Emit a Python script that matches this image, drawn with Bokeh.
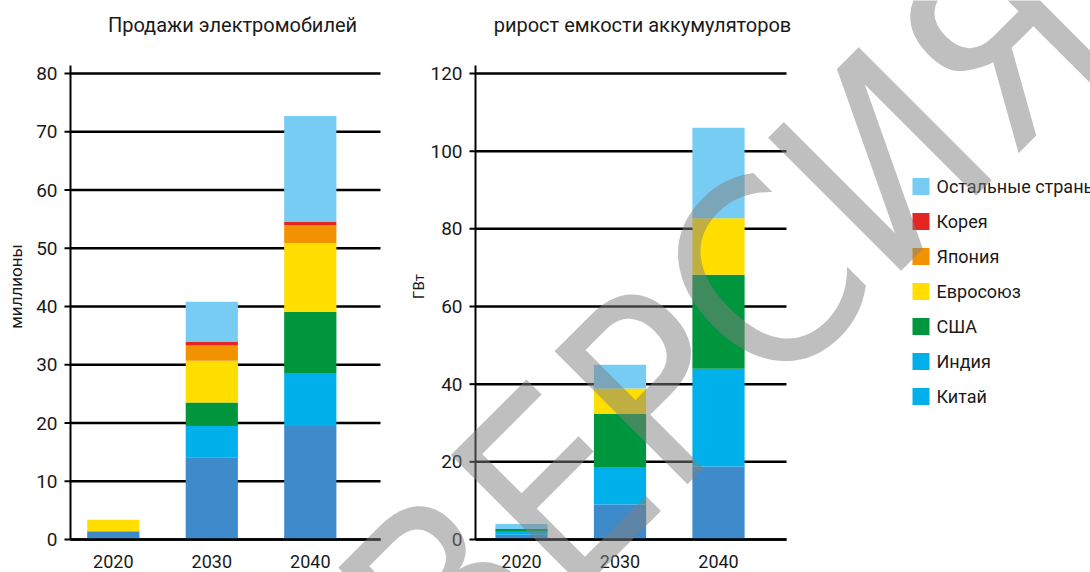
import math

from bokeh.core.properties import value
from bokeh.embed import file_html
from bokeh.models import ColumnDataSource, Range1d
from bokeh.plotting import figure
from bokeh.resources import INLINE

# ---------------------------------------------------------------- data
years = [2020, 2030, 2040]
year_labels = ["2020", "2030", "2040"]
regions = ["Китай", "Индия", "США", "Евросоюз", "Япония", "Корея", "Остальные страны"]
bar_colors = ["#3D8BCB", "#00B0EA", "#00963D", "#FFDE00", "#F39200", "#E42522", "#77CCF4"]

# legend entries, top to bottom, with their swatch colours
legend_labels = ["Остальные страны", "Корея", "Япония", "Евросоюз", "США", "Индия", "Китай"]
legend_colors = ["#77CCF4", "#E42522", "#F39200", "#FFDE00", "#00963D", "#00B0EA", "#00B0EA"]

# electric vehicle sales, millions
ev_china = [1.4, 14.1, 19.5]
ev_india = [0.0, 5.4, 9.1]
ev_usa = [0.0, 4.0, 10.5]
ev_eu = [2.0, 7.2, 11.8]
ev_japan = [0.0, 2.6, 3.1]
ev_korea = [0.0, 0.6, 0.5]
ev_rest = [0.0, 6.9, 18.2]

# battery capacity growth, GW
bat_china = [1.2, 9.0, 18.8]
bat_india = [0.8, 9.5, 25.2]
bat_usa = [0.7, 13.9, 24.2]
bat_eu = [0.0, 6.5, 14.5]
bat_japan = [0.0, 0.0, 0.0]
bat_korea = [0.0, 0.0, 0.0]
bat_rest = [1.3, 6.1, 23.3]

ev_ticks = [0, 10, 20, 30, 40, 50, 60, 70, 80]
bat_ticks = [0, 20, 40, 60, 80, 100, 120]

title_left = "Продажи электромобилей"
title_right = "рирост емкости аккумуляторов"
ylabel_left = "миллионы"
ylabel_right = "ГВт"
stamp = "ВЕРСИЯ"

# ---------------------------------------------------------------- page
W, H = 1090, 572
FONT = "Roboto"
INK = "#1A1A1A"
keys = ["china", "india", "usa", "eu", "japan", "korea", "rest"]


class Panel:
    """Linear data<->page mapping for one chart area (page pixels from top-left)."""

    def __init__(self, name, left, right, top, bottom, xa, pxa, xb, pxb, ya, pya, yb, pyb):
        self.name = name
        self.left, self.right, self.top, self.bottom = left, right, top, bottom
        self.xa, self.pxa = xa, pxa
        self.kx = (xb - xa) / (pxb - pxa)
        self.ya, self.pya = ya, pya
        self.ky = (yb - ya) / (pya - pyb)

    def x(self, px):
        return self.xa + (px - self.pxa) * self.kx

    def y(self, py):
        return self.ya + (self.pya - py) * self.ky

    def x_range(self):
        return Range1d(self.x(0), self.x(W))

    def y_range(self):
        return Range1d(self.y(H), self.y(0))


ev_panel = Panel("ev", 70, 380, 65, 539, 2020, 112.8, 2040, 309.8, 0, 539, 80, 73)
bat_panel = Panel("bat", 475, 786, 65, 539, 2020, 521, 2040, 718, 0, 539, 120, 73)

p = figure(width=W, height=H, x_range=(0, W), y_range=(0, H),
           x_axis_location=None, y_axis_location=None,
           output_backend="svg", toolbar_location=None,
           min_border=0, min_border_left=0, min_border_right=0,
           min_border_top=0, min_border_bottom=0)
p.grid.visible = False
p.outline_line_color = None
p.background_fill_color = "white"
p.border_fill_color = "white"

p.extra_x_ranges = {"ev": ev_panel.x_range(), "bat": bat_panel.x_range()}
p.extra_y_ranges = {"ev": ev_panel.y_range(), "bat": bat_panel.y_range()}


def draw_chart(pn, source, ticks):
    rn = dict(x_range_name=pn.name, y_range_name=pn.name)
    x_lo, x_hi = pn.x(pn.left), pn.x(pn.right)
    y_top = pn.y(pn.top)
    n = len(ticks)

    # horizontal grid lines behind the bars
    p.segment(x0=[x_lo] * n, x1=[x_hi] * n, y0=ticks, y1=ticks,
              line_color="black", line_width=2.5, **rn)

    p.vbar_stack(keys, x="year", width=5.3, source=source,
                 fill_color=bar_colors, line_color=None, **rn)

    # axis lines and tick marks
    p.segment(x0=[x_lo], x1=[x_hi], y0=[0], y1=[0], line_color="black", line_width=2.5, **rn)
    p.segment(x0=[x_lo], x1=[x_lo], y0=[0], y1=[y_top], line_color="black", line_width=2, **rn)
    p.segment(x0=[pn.x(pn.left - 6)] * n, x1=[x_lo] * n, y0=ticks, y1=ticks,
              line_color="black", line_width=2, **rn)

    # tick labels
    p.text(x=[pn.x(pn.left - 13)] * n, y=ticks, text=[str(t) for t in ticks],
           text_font=value(FONT), text_font_size="19px", text_color=INK,
           text_align="right", text_baseline="middle", **rn)
    p.text(x=years, y=[pn.y(560.5)] * len(years), text=year_labels,
           text_font=value(FONT), text_font_size="18px", text_color=INK,
           text_align="center", text_baseline="middle", **rn)


src_ev = ColumnDataSource(dict(year=years, china=ev_china, india=ev_india, usa=ev_usa,
                               eu=ev_eu, japan=ev_japan, korea=ev_korea, rest=ev_rest))
src_bat = ColumnDataSource(dict(year=years, china=bat_china, india=bat_india, usa=bat_usa,
                                eu=bat_eu, japan=bat_japan, korea=bat_korea, rest=bat_rest))

draw_chart(ev_panel, src_ev, ev_ticks)
draw_chart(bat_panel, src_bat, bat_ticks)

# titles and axis names (page pixel space)
p.text(x=[232, 642], y=[H - 24, H - 24], text=[title_left, title_right],
       text_font=value(FONT), text_font_size="20px", text_color=INK,
       text_align="center", text_baseline="middle")
p.text(x=[15], y=[H - 286], text=[ylabel_left], angle=math.pi / 2,
       text_font=value(FONT), text_font_size="17px", text_color=INK,
       text_align="center", text_baseline="middle")
p.text(x=[418], y=[H - 286], text=[ylabel_right], angle=math.pi / 2,
       text_font=value(FONT), text_font_size="15px", text_color=INK,
       text_align="center", text_baseline="middle")

# legend
row_y = [H - (186 + 35 * i) for i in range(len(legend_labels))]
leg = ColumnDataSource(dict(sx=[920.5] * len(legend_labels), tx=[936] * len(legend_labels),
                            y=row_y, label=legend_labels, color=legend_colors))
p.rect(x="sx", y="y", width=17, height=17, fill_color="color", line_color=None, source=leg)
p.text(x="tx", y="y", text="label", source=leg, text_font=value(FONT),
       text_font_size="18px", text_baseline="middle", text_align="left", text_color=INK)

# large translucent diagonal word across the page
p.text(x=[725], y=[H - 320], text=[stamp], angle=math.pi / 4,
       text_font=value("DejaVu Sans Condensed"), text_font_size="258px",
       text_color="#808080", text_alpha=0.5,
       text_align="center", text_baseline="middle")

open("out.html", "w").write(file_html(p, INLINE))
